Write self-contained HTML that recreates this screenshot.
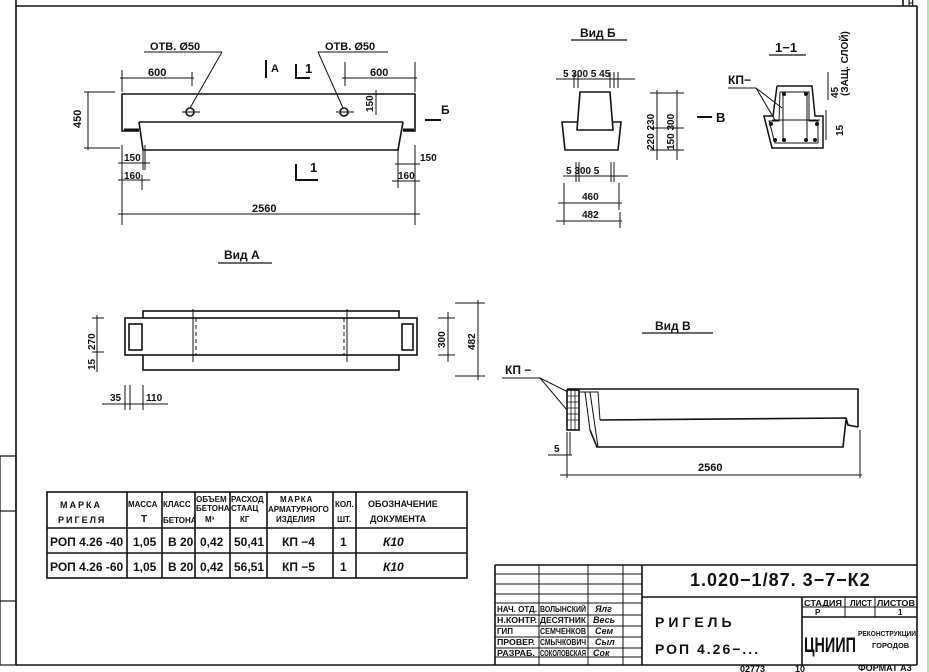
<!DOCTYPE html>
<html><head><meta charset="utf-8"><style>
html,body{margin:0;padding:0;background:#fff;}
svg{display:block;}
text{font-family:"Liberation Sans Narrow","Liberation Sans","DejaVu Sans",sans-serif;font-weight:bold;fill:#111;}
</style></head><body>
<svg width="929" height="672" viewBox="0 0 929 672" xmlns="http://www.w3.org/2000/svg">
<g stroke="#111" fill="none" stroke-width="1.6">
<line x1="16" y1="6" x2="917" y2="6"/>
<line x1="16" y1="0" x2="16" y2="665"/>
<line x1="917" y1="6" x2="917" y2="665"/>
<line x1="16" y1="665" x2="917" y2="665"/>
<line x1="903" y1="0" x2="903" y2="6"/>
<rect x="0" y="456" width="16" height="209" stroke-width="1.2"/>
<line x1="0" y1="511" x2="16" y2="511" stroke-width="1.2"/>
<line x1="0" y1="601" x2="16" y2="601" stroke-width="1.2"/>
</g>
<line x1="928" y1="0" x2="928" y2="672" stroke="#8f8" stroke-width="2"/>
<text x="908" y="6" font-size="8">Н</text>

<!-- MAIN BEAM -->
<g stroke="#111" fill="none" stroke-width="1.6">
<polyline points="139,131 122,131 122,94 415,94 415,131 403,131"/>
<line x1="139" y1="122" x2="403" y2="122"/>
<polyline points="139,122 143,150 398,150 403,122"/>
<line x1="124" y1="130" x2="139" y2="130" stroke-width="3"/>
<line x1="403" y1="130" x2="414" y2="130" stroke-width="3"/>
<circle cx="190" cy="112" r="4"/><circle cx="344" cy="112" r="4"/>
<g stroke-width="1">
<line x1="182" y1="112" x2="200" y2="112"/><line x1="336" y1="112" x2="354" y2="112"/>
<line x1="144" y1="52" x2="222" y2="52"/><line x1="222" y1="52" x2="190" y2="108"/>
<line x1="318" y1="52" x2="388" y2="52"/><line x1="318" y1="52" x2="343" y2="108"/>
<line x1="120" y1="78" x2="194" y2="78"/><line x1="122" y1="70" x2="122" y2="92"/><line x1="192" y1="72" x2="192" y2="86"/>
<line x1="342" y1="78" x2="417" y2="78"/><line x1="345" y1="62" x2="345" y2="86"/><line x1="415" y1="62" x2="415" y2="92"/>
<line x1="88" y1="92" x2="88" y2="150"/><line x1="84" y1="92" x2="115" y2="92"/><line x1="84" y1="148" x2="120" y2="148"/>
<line x1="376" y1="90" x2="376" y2="115"/>
<line x1="122" y1="145" x2="122" y2="225"/><line x1="415" y1="145" x2="415" y2="225"/>
<line x1="143" y1="150" x2="143" y2="170"/><line x1="398" y1="150" x2="398" y2="188"/>
<line x1="145" y1="145" x2="145" y2="170"/><line x1="142" y1="175" x2="142" y2="190"/>
<line x1="118" y1="163" x2="150" y2="163"/><line x1="118" y1="180" x2="150" y2="180"/>
<line x1="395" y1="164" x2="420" y2="164"/><line x1="392" y1="181" x2="420" y2="181"/>
<line x1="118" y1="214" x2="420" y2="214"/>
<line x1="266" y1="60" x2="266" y2="78" stroke-width="2"/>
<polyline points="296,64 296,78 310,78" stroke-width="2"/>
<polyline points="296,164 296,180 318,180" stroke-width="2"/>
<line x1="425" y1="120" x2="441" y2="120" stroke-width="2"/>
</g>
</g>
<text x="150" y="50" font-size="11">ОТВ. Ø50</text>
<text x="325" y="50" font-size="11">ОТВ. Ø50</text>
<text x="148" y="76" font-size="11">600</text>
<text x="370" y="76" font-size="11">600</text>
<text x="271" y="72" font-size="11">А</text>
<text x="305" y="73" font-size="13">1</text>
<text x="310" y="172" font-size="13">1</text>
<text x="441" y="114" font-size="12">Б</text>
<text font-size="11" transform="translate(81,128) rotate(-90)">450</text>
<text font-size="10" transform="translate(373,112) rotate(-90)">150</text>
<text x="124" y="161" font-size="10">150</text>
<text x="124" y="179" font-size="10">160</text>
<text x="420" y="161" font-size="10">150</text>
<text x="398" y="179" font-size="10">160</text>
<text x="252" y="212" font-size="11">2560</text>

<!-- VID Б -->
<text x="580" y="37" font-size="12">Вид Б</text>
<line x1="571" y1="40" x2="627" y2="40" stroke="#111" stroke-width="1.2"/>
<g stroke="#111" fill="none" stroke-width="1.6">
<polygon points="580,92 610,92 613,130 577,130"/>
<polyline points="577,122 562,122 565,150 618,150 621,122 613,122"/>
<g stroke-width="1">
<line x1="556" y1="79" x2="635" y2="79"/><line x1="574" y1="72" x2="574" y2="88"/><line x1="578" y1="72" x2="578" y2="88"/><line x1="610" y1="72" x2="610" y2="88"/><line x1="614" y1="72" x2="614" y2="88"/><line x1="618" y1="72" x2="618" y2="88"/>
<line x1="563" y1="176" x2="628" y2="176"/><line x1="576" y1="162" x2="576" y2="182"/><line x1="579" y1="162" x2="579" y2="182"/><line x1="611" y1="162" x2="611" y2="182"/><line x1="614" y1="162" x2="614" y2="182"/>
<line x1="558" y1="203" x2="622" y2="203"/><line x1="564" y1="183" x2="564" y2="225"/><line x1="619" y1="183" x2="619" y2="210"/>
<line x1="556" y1="221" x2="622" y2="221"/><line x1="620" y1="212" x2="620" y2="228"/>
<line x1="657" y1="90" x2="657" y2="160"/><line x1="677" y1="90" x2="677" y2="160"/>
<line x1="650" y1="93" x2="684" y2="93"/><line x1="650" y1="128" x2="684" y2="128"/><line x1="650" y1="150" x2="684" y2="150"/>
<line x1="697" y1="117" x2="712" y2="117" stroke-width="2"/>
</g>
</g>
<text x="563" y="77" font-size="10">5 300 5 45</text>
<text x="566" y="174" font-size="10">5  300  5</text>
<text x="582" y="200" font-size="10">460</text>
<text x="582" y="218" font-size="10">482</text>
<text font-size="10" transform="translate(654,150) rotate(-90)">220 230</text>
<text font-size="10" transform="translate(674,150) rotate(-90)">150 300</text>
<text x="716" y="122" font-size="13">В</text>

<!-- 1-1 -->
<text x="775" y="52" font-size="13">1−1</text>
<line x1="769" y1="55" x2="806" y2="55" stroke="#111" stroke-width="1.2"/>
<g stroke="#111" fill="none" stroke-width="1.5">
<polyline points="777,86 812,86 815,116 823,116 823,148 772,148 764,116 773,116 777,86"/>
<polyline points="780,92 809,92 809,121 818,121 818,143 775,143 769,121 779,121 780,92" stroke-width="1"/>
<line x1="783" y1="94" x2="783" y2="140" stroke-width="1"/><line x1="807" y1="94" x2="807" y2="140" stroke-width="1"/>
<line x1="772" y1="120" x2="820" y2="120" stroke-width="1"/>
<g stroke-width="1"><line x1="728" y1="88" x2="756" y2="88"/><line x1="756" y1="88" x2="775" y2="120"/><line x1="756" y1="88" x2="782" y2="108"/>
<line x1="828" y1="72" x2="828" y2="100"/><line x1="826" y1="110" x2="826" y2="140"/></g>
</g>
<g fill="#111"><circle cx="784" cy="94" r="2"/><circle cx="806" cy="94" r="2"/><circle cx="775" cy="140" r="2"/><circle cx="784" cy="140" r="2"/><circle cx="806" cy="140" r="2"/><circle cx="815" cy="140" r="2"/><circle cx="771" cy="124" r="2"/><circle cx="817" cy="124" r="2"/></g>
<text x="728" y="84" font-size="12">КП−</text>
<text font-size="10" transform="translate(838,98) rotate(-90)">45</text>
<text font-size="10" transform="translate(848,96) rotate(-90)">(ЗАЩ. СЛОЙ)</text>
<text font-size="10" transform="translate(843,136) rotate(-90)">15</text>

<!-- VID A -->
<text x="224" y="259" font-size="12">Вид А</text>
<line x1="218" y1="263" x2="272" y2="263" stroke="#111" stroke-width="1.2"/>
<g stroke="#111" fill="none" stroke-width="1.6">
<rect x="143" y="311" width="256" height="59"/>
<rect x="125" y="318" width="292" height="37" fill="#fff"/>
<rect x="129" y="324" width="13" height="26"/><rect x="402" y="324" width="11" height="26"/>
<line x1="193" y1="309" x2="193" y2="362" stroke-width="1"/><line x1="347" y1="309" x2="347" y2="362" stroke-width="1"/>
<line x1="196" y1="318" x2="196" y2="355" stroke-dasharray="4,3" stroke-width="1"/><line x1="344" y1="318" x2="344" y2="355" stroke-dasharray="4,3" stroke-width="1"/>
<g stroke-width="1">
<line x1="97" y1="315" x2="97" y2="372"/><line x1="92" y1="318" x2="104" y2="318"/><line x1="92" y1="352" x2="104" y2="352"/>
<line x1="448" y1="312" x2="448" y2="362"/><line x1="438" y1="318" x2="455" y2="318"/><line x1="438" y1="355" x2="455" y2="355"/>
<line x1="478" y1="300" x2="478" y2="380"/><line x1="455" y1="303" x2="485" y2="303"/><line x1="455" y1="376" x2="485" y2="376"/>
<line x1="102" y1="404" x2="168" y2="404"/><line x1="125" y1="385" x2="125" y2="410"/><line x1="130" y1="385" x2="130" y2="410"/><line x1="143" y1="385" x2="143" y2="410"/>
</g>
</g>
<text font-size="10" transform="translate(95,370) rotate(-90)">15</text>
<text font-size="10" transform="translate(95,350) rotate(-90)">270</text>
<text font-size="10" transform="translate(445,348) rotate(-90)">300</text>
<text font-size="10" transform="translate(475,350) rotate(-90)">482</text>
<text x="110" y="401" font-size="10">35</text>
<text x="146" y="401" font-size="10">110</text>

<!-- VID В -->
<text x="655" y="330" font-size="12">Вид В</text>
<line x1="642" y1="333" x2="713" y2="333" stroke="#111" stroke-width="1.2"/>
<g stroke="#111" fill="none" stroke-width="1.6">
<polyline points="567,389 858,389 858,427"/>
<polyline points="600,420 846,418 848,425 858,427"/>
<polyline points="590,430 597,447 843,447 846,420"/>
<rect x="567" y="390" width="12" height="40"/>
<path d="M579,392 L598,392 L600,420 M585,392 L590,430 M590,392 L598,447" stroke-width="1"/>
<path d="M567,396 H579 M567,402 H579 M567,408 H579 M567,414 H579 M567,420 H579 M571,390 V430 M575,390 V430" stroke-width="0.8"/>
<g stroke-width="1">
<line x1="502" y1="378" x2="540" y2="378"/><line x1="540" y1="378" x2="568" y2="392"/><line x1="540" y1="378" x2="567" y2="410"/>
<line x1="567" y1="432" x2="567" y2="478"/><line x1="570" y1="432" x2="570" y2="455"/><line x1="548" y1="455" x2="572" y2="455"/>
<line x1="560" y1="475" x2="862" y2="475"/><line x1="860" y1="430" x2="860" y2="478"/>
</g>
</g>
<text x="505" y="374" font-size="12">КП −</text>
<text x="554" y="452" font-size="10">5</text>
<text x="698" y="471" font-size="11">2560</text>

<!-- TABLE -->
<g stroke="#111" fill="none" stroke-width="1.6">
<rect x="47" y="492" width="420" height="86"/>
<line x1="47" y1="528" x2="467" y2="528"/><line x1="47" y1="553" x2="467" y2="553"/>
<line x1="127" y1="492" x2="127" y2="578"/><line x1="162" y1="492" x2="162" y2="578"/><line x1="195" y1="492" x2="195" y2="578"/>
<line x1="230" y1="492" x2="230" y2="578"/><line x1="267" y1="492" x2="267" y2="578"/><line x1="333" y1="492" x2="333" y2="578"/><line x1="356" y1="492" x2="356" y2="578"/>
</g>
<g font-size="8">
<text x="60" y="508" font-size="9" letter-spacing="2">МАРКА</text><text x="58" y="523" font-size="9" letter-spacing="2">РИГЕЛЯ</text>
<text x="128" y="507">МАССА</text><text x="141" y="522" font-size="10">Т</text>
<text x="163" y="507">КЛАСС</text><text x="163" y="523">БЕТОНА</text>
<text x="196" y="502">ОБЪЕМ</text><text x="196" y="511">БЕТОНА</text><text x="205" y="522">М³</text>
<text x="231" y="502">РАСХОД</text><text x="231" y="511">СТААЦ</text><text x="240" y="522">КГ</text>
<text x="280" y="502" letter-spacing="1">МАРКА</text><text x="268" y="512">АРМАТУРНОГО</text><text x="276" y="522">ИЗДЕЛИЯ</text>
<text x="335" y="507">КОЛ.</text><text x="337" y="522">ШТ.</text>
<text x="368" y="507" font-size="9">ОБОЗНАЧЕНИЕ</text><text x="370" y="522" font-size="9">ДОКУМЕНТА</text>
</g>
<g font-size="12">
<text x="50" y="546">РОП 4.26 -40</text><text x="133" y="546">1,05</text><text x="168" y="546">В 20</text><text x="200" y="546">0,42</text><text x="234" y="546">50,41</text><text x="282" y="546">КП −4</text><text x="340" y="546">1</text><text x="383" y="546" font-weight="normal" font-style="italic">К10</text>
<text x="50" y="571">РОП 4.26 -60</text><text x="133" y="571">1,05</text><text x="168" y="571">В 20</text><text x="200" y="571">0,42</text><text x="234" y="571">56,51</text><text x="282" y="571">КП −5</text><text x="340" y="571">1</text><text x="383" y="571" font-weight="normal" font-style="italic">К10</text>
</g>

<!-- TITLE BLOCK -->
<g stroke="#111" fill="none" stroke-width="1.6">
<line x1="495" y1="565" x2="917" y2="565"/><line x1="495" y1="565" x2="495" y2="665"/>
<line x1="642" y1="565" x2="642" y2="665"/>
<line x1="642" y1="597" x2="917" y2="597"/>
<line x1="802" y1="597" x2="802" y2="665"/>
<line x1="802" y1="617" x2="917" y2="617"/>
<g stroke-width="1">
<line x1="539" y1="565" x2="539" y2="665"/><line x1="588" y1="565" x2="588" y2="665"/><line x1="623" y1="565" x2="623" y2="665"/>
<line x1="495" y1="574" x2="642" y2="574"/><line x1="495" y1="584" x2="642" y2="584"/><line x1="495" y1="594" x2="642" y2="594"/>
<line x1="495" y1="603" x2="642" y2="603"/><line x1="495" y1="615" x2="642" y2="615"/><line x1="495" y1="626" x2="642" y2="626"/>
<line x1="495" y1="637" x2="642" y2="637"/><line x1="495" y1="648" x2="642" y2="648"/><line x1="495" y1="657" x2="642" y2="657"/>
<line x1="802" y1="607" x2="917" y2="607"/>
<line x1="845" y1="597" x2="845" y2="617"/><line x1="875" y1="597" x2="875" y2="617"/>
</g>
</g>
<g font-size="8">
<text x="497" y="612" textLength="40" lengthAdjust="spacingAndGlyphs">НАЧ. ОТД.</text><text x="540" y="612" textLength="46" lengthAdjust="spacingAndGlyphs">ВОЛЫНСКИЙ</text>
<text x="497" y="623" textLength="40" lengthAdjust="spacingAndGlyphs">Н.КОНТР.</text><text x="540" y="623" textLength="46" lengthAdjust="spacingAndGlyphs">ДЕСЯТНИК</text>
<text x="497" y="634">ГИП</text><text x="540" y="634" textLength="46" lengthAdjust="spacingAndGlyphs">СЕМЧЕНКОВ</text>
<text x="497" y="645" textLength="38" lengthAdjust="spacingAndGlyphs">ПРОВЕР.</text><text x="540" y="645" textLength="46" lengthAdjust="spacingAndGlyphs">СМЫЧКОВИЧ</text>
<text x="497" y="656" textLength="38" lengthAdjust="spacingAndGlyphs">РАЗРАБ.</text><text x="540" y="656" textLength="46" lengthAdjust="spacingAndGlyphs">СОКОЛОВСКАЯ</text>
<text x="804" y="606" textLength="38" lengthAdjust="spacingAndGlyphs">СТАДИЯ</text><text x="850" y="606">ЛИСТ</text><text x="877" y="606" textLength="38" lengthAdjust="spacingAndGlyphs">ЛИСТОВ</text>
<text x="815" y="615">Р</text><text x="898" y="615">1</text>
</g>
<g font-size="9" font-weight="normal" font-style="italic" fill="#333">
<text x="595" y="612">Ялг</text><text x="593" y="623">Весь</text><text x="595" y="634">Сем</text><text x="595" y="645">Сыл</text><text x="593" y="656">Сок</text>
</g>
<text x="690" y="586" font-size="18" font-weight="normal" letter-spacing="1">1.020−1/87.  3−7−К2</text>
<text x="655" y="627" font-size="14" letter-spacing="4">РИГЕЛЬ</text>
<text x="655" y="654" font-size="14" letter-spacing="2">РОП 4.26−...</text>
<text x="804" y="652" font-size="21" font-weight="normal" textLength="52" lengthAdjust="spacingAndGlyphs">ЦНИИП</text>
<text x="858" y="636" font-size="7" textLength="58" lengthAdjust="spacingAndGlyphs">РЕКОНСТРУКЦИИ</text>
<text x="872" y="648" font-size="7.5">ГОРОДОВ</text>
<text x="740" y="672" font-size="9" font-weight="normal">02773</text>
<text x="795" y="672" font-size="9" font-weight="normal">10</text>
<text x="858" y="671" font-size="9">ФОРМАТ А3</text>
</svg>
</body></html>
